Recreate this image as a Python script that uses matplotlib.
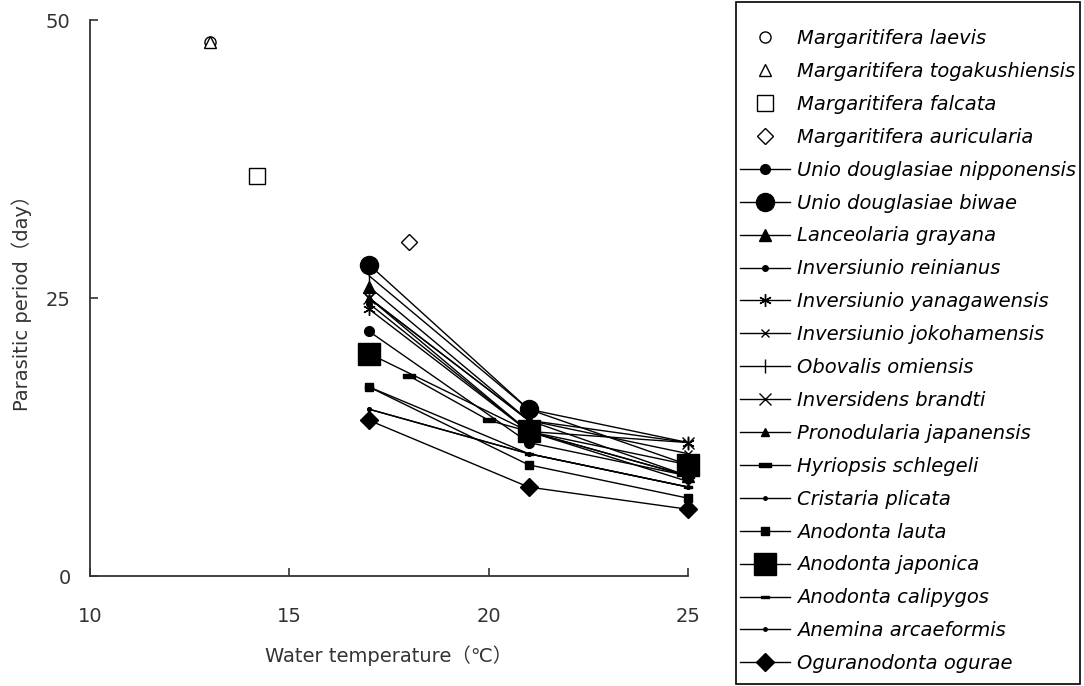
import matplotlib
matplotlib.use("Agg")
import matplotlib.pyplot as plt
from matplotlib.patches import Rectangle

# ---------------- data ----------------
# open markers (single observations, no lines)
single_names = ["Margaritifera laevis", "Margaritifera togakushiensis",
                "Margaritifera falcata", "Margaritifera auricularia"]
single_temp = [13, 13, 14.2, 18]
single_days = [48, 48, 36, 30]

# line series
t_std = [17, 21, 25]
ud_nipponensis = [22, 12, 9]
ud_biwae = [28, 15, 10]
l_grayana = [26, 14, 9]
i_reinianus = [24.5, 13, 8.5]
i_yanagawensis = [24, 13, 12]
i_jokohamensis = [25, 14, 11]
o_omiensis = [27, 15, 12]
i_brandti = [25, 14, 12]
p_japanensis = [25, 13, 9]
h_schlegeli_t = [18, 20, 25]
h_schlegeli = [18, 14, 9]
c_plicata = [15, 11, 8]
a_lauta = [17, 10, 7]
a_japonica = [20, 13, 10]
a_calipygos = [17, 11, 8]
a_arcaeformis = [15, 11, 8]
o_ogurae = [14, 8, 6]

bar_marker = [(-1, -0.35), (1, -0.35), (1, 0.35), (-1, 0.35), (-1, -0.35)]

line_series = [
    ("Unio douglasiae nipponensis", t_std, ud_nipponensis, "o", 7),
    ("Unio douglasiae biwae", t_std, ud_biwae, "o", 13),
    ("Lanceolaria grayana", t_std, l_grayana, "^", 9),
    ("Inversiunio reinianus", t_std, i_reinianus, "o", 4),
    ("Inversiunio yanagawensis", t_std, i_yanagawensis, (6, 2, 0), 9),
    ("Inversiunio jokohamensis", t_std, i_jokohamensis, "x", 6),
    ("Obovalis omiensis", t_std, o_omiensis, "|", 10),
    ("Inversidens brandti", t_std, i_brandti, "x", 9),
    ("Pronodularia japanensis", t_std, p_japanensis, "^", 6),
    ("Hyriopsis schlegeli", h_schlegeli_t, h_schlegeli, bar_marker, 9),
    ("Cristaria plicata", t_std, c_plicata, "o", 2.5),
    ("Anodonta lauta", t_std, a_lauta, "s", 6),
    ("Anodonta japonica", t_std, a_japonica, "s", 16),
    ("Anodonta calipygos", t_std, a_calipygos, bar_marker, 6),
    ("Anemina arcaeformis", t_std, a_arcaeformis, "o", 2.5),
    ("Oguranodonta ogurae", t_std, o_ogurae, "D", 9),
]

single_markers = [("o", 8), ("^", 9), ("s", 12), ("D", 8)]

TXT = "#333333"
FAM = ["DejaVu Sans", "Noto Sans CJK JP"]

# ---------------- figure ----------------
fig = plt.figure(figsize=(10.84, 6.86), dpi=100)
ax = fig.add_axes([90 / 1084, 110 / 686, 598 / 1084, 556 / 686])

handles = []
for name, x, y, (m, ms) in zip(single_names, single_temp, single_days, single_markers):
    h, = ax.plot([x], [y], linestyle="none", marker=m, markersize=ms,
                 markerfacecolor="white", markeredgecolor="black",
                 markeredgewidth=1.0, label=name, zorder=3)
    handles.append(h)

for name, xs, ys, m, ms in line_series:
    h, = ax.plot(xs, ys, color="black", linewidth=1.0, marker=m, markersize=ms,
                 markerfacecolor="black", markeredgecolor="black",
                 markeredgewidth=1.0, label=name, zorder=4)
    handles.append(h)

ax.set_xlim(10, 25)
ax.set_ylim(0, 50)
ax.set_xticks([10, 15, 20, 25])
ax.set_yticks([0, 25, 50])
for s in ["top", "right"]:
    ax.spines[s].set_visible(False)
for s in ["left", "bottom"]:
    ax.spines[s].set_color(TXT)
    ax.spines[s].set_linewidth(1.3)
ax.tick_params(direction="in", length=6, width=1.2, color=TXT,
               labelsize=14, labelcolor=TXT)
ax.tick_params(axis="x", pad=22)
ax.tick_params(axis="y", pad=14)
ax.set_xlabel("Water temperature\uff08\u2103\uff09", fontsize=14, color=TXT,
              labelpad=14, family=FAM)
ax.set_ylabel("Parasitic period\uff08day\uff09", fontsize=14, color=TXT,
              labelpad=10, family=FAM)
for ln in ax.lines:
    ln.set_clip_on(False)

leg = fig.legend(handles=handles, loc="upper left",
                 bbox_to_anchor=(740 / 1084, 1 - 29 / 686),
                 frameon=False,
                 prop={"style": "italic", "size": 14},
                 handlelength=2.57, handletextpad=0.36, borderpad=0.0,
                 labelspacing=0.715, borderaxespad=0.0)

fig.patches.append(Rectangle((736 / 1084, 2 / 686), (1080 - 736) / 1084, (684 - 2) / 686,
                             transform=fig.transFigure, fill=False,
                             edgecolor="black", linewidth=1.2))

fig.savefig("out.png", dpi=100, facecolor="white")
